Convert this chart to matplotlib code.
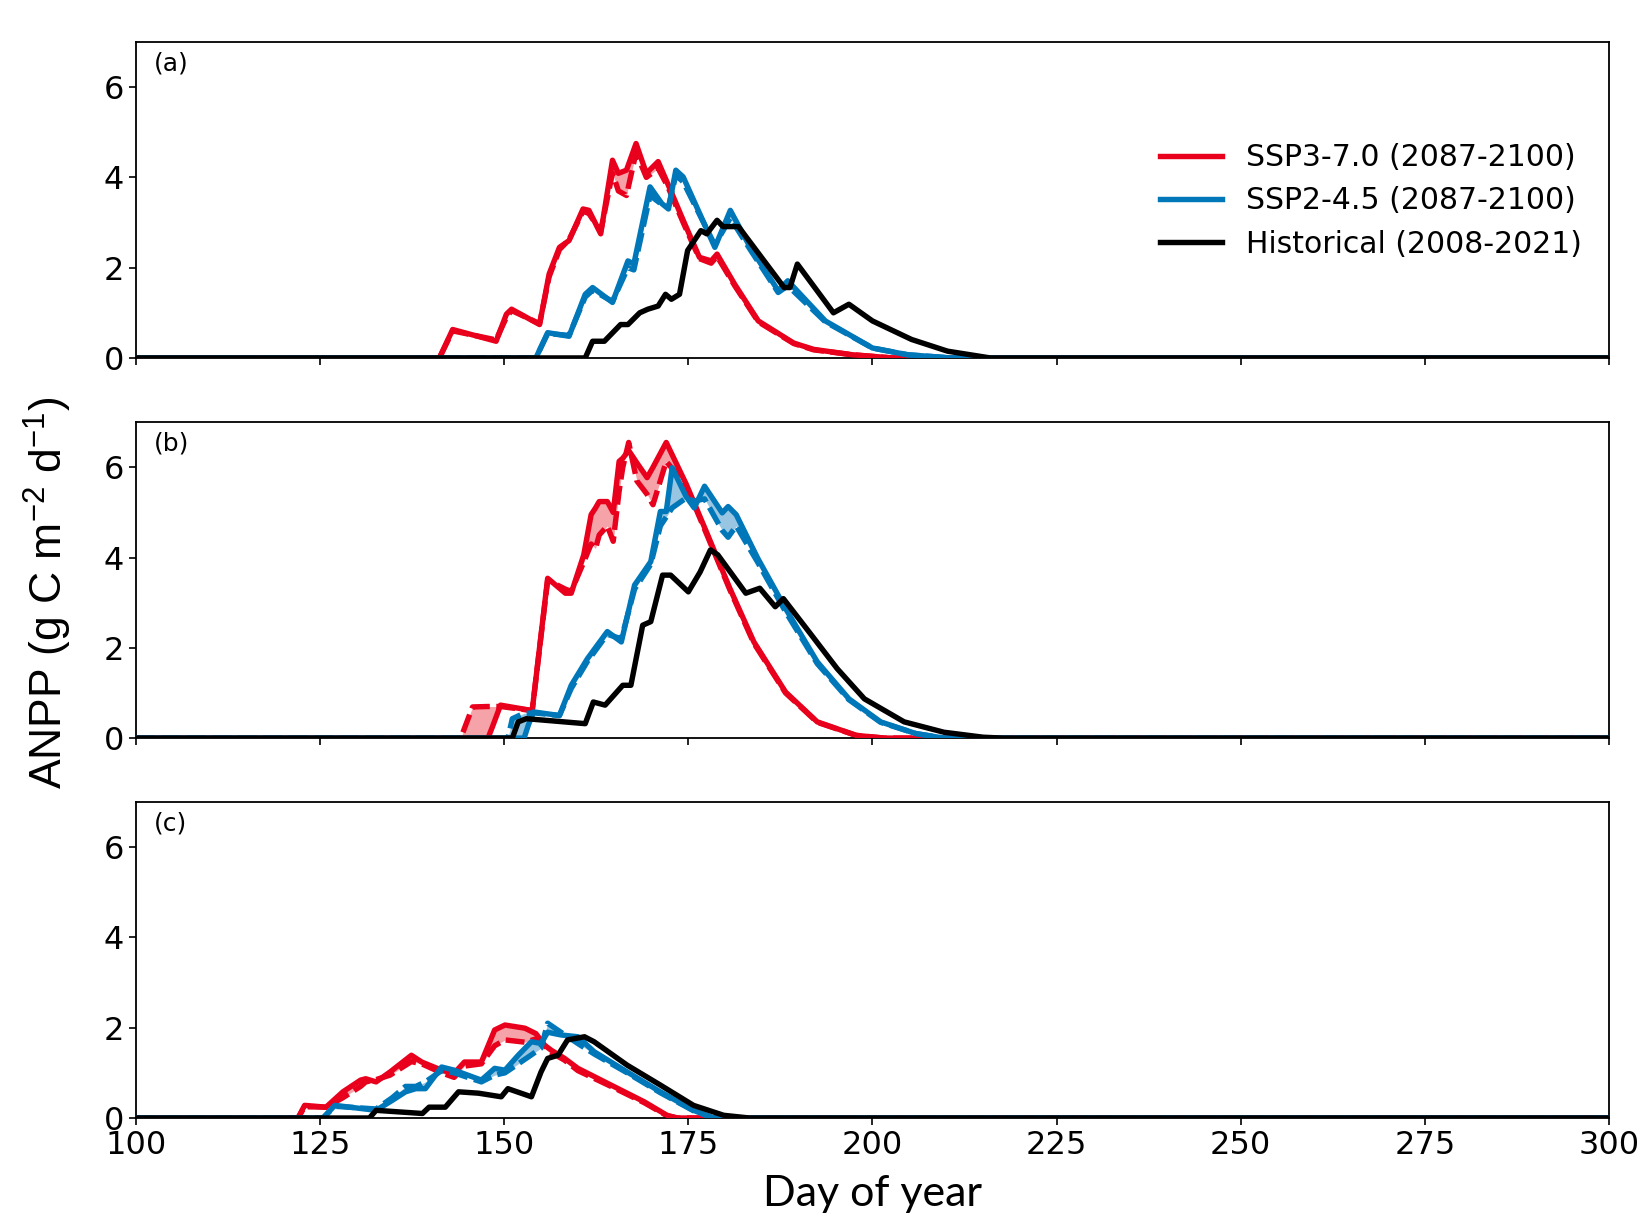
import matplotlib
matplotlib.use("Agg")
import matplotlib.pyplot as plt

# ---------------- data (day of year, ANPP in g C m-2 d-1) ----------------
# panel (a)
a_red_x = [100, 141.2, 143.0, 148.9, 150.3, 151.0, 154.8, 156.1, 157.5, 158.8, 160.7, 161.5, 163.1,
           164.7, 165.5, 166.6, 167.9, 169.3, 170.9, 172.2, 174.3, 176.5, 178.1, 178.9, 181.3, 184.5,
           189.3, 192.0, 197.3, 202.7, 300]
a_red_solid = [0, 0, 0.63, 0.37, 0.97, 1.08, 0.74, 1.86, 2.45, 2.6, 3.3, 3.27, 2.75, 4.38, 4.09, 4.16,
               4.75, 4.09, 4.35, 3.86, 3.05, 2.23, 2.15, 2.3, 1.63, 0.82, 0.33, 0.19, 0.07, 0, 0]
a_red_dash = [0, 0, 0.6, 0.4, 0.9, 1.05, 0.76, 1.8, 2.4, 2.62, 3.25, 3.2, 2.8, 4.1, 3.7, 3.6, 4.55,
              4.0, 4.2, 3.8, 3.0, 2.2, 2.1, 2.25, 1.6, 0.8, 0.32, 0.18, 0.07, 0, 0]

a_blue_x = [100, 154.3, 155.9, 158.8, 161.0, 162.0, 164.7, 166.8, 167.6, 169.8, 171.4, 172.3, 173.3,
            174.3, 178.6, 180.7, 183.4, 187.2, 188.5, 193.6, 200.0, 204.8, 210.7, 300]
a_blue_solid = [0, 0, 0.56, 0.48, 1.41, 1.56, 1.23, 2.15, 2.08, 3.79, 3.42, 3.3, 4.16, 4.01, 2.45,
                3.27, 2.45, 1.49, 1.71, 0.82, 0.22, 0.07, 0, 0]
a_blue_dash = [0, 0, 0.54, 0.5, 1.35, 1.5, 1.25, 2.0, 1.95, 3.6, 3.4, 3.35, 4.05, 3.9, 2.5, 3.1,
               2.4, 1.45, 1.6, 0.8, 0.22, 0.07, 0, 0]

a_hist_x = [100, 161.0, 162.0, 163.6, 165.8, 166.8, 168.4, 169.5, 170.9, 171.9, 172.7, 173.8, 174.9,
            176.7, 177.5, 178.9, 179.7, 181.8, 188.0, 188.8, 189.8, 194.7, 196.8, 200.0, 205.3,
            210.2, 216.0, 300]
a_hist = [0, 0, 0.37, 0.37, 0.74, 0.74, 1.0, 1.08, 1.15, 1.41, 1.3, 1.41, 2.38, 2.82, 2.75, 3.05,
          2.91, 2.91, 1.56, 1.56, 2.08, 1.0, 1.19, 0.82, 0.41, 0.15, 0.0, 0]

# panel (b)
b_red_x = [100, 144.1, 145.7, 147.8, 148.4, 149.5, 153.8, 155.9, 158.3, 159.1, 160.8, 161.8, 162.4,
           162.9, 164.0, 164.8, 165.6, 166.1, 166.9, 168.0, 169.4, 170.2, 172.0, 174.7, 177.4, 180.6,
           183.9, 188.2, 192.5, 197.8, 201.6, 300]
b_red_solid = [0, 0, 0, 0, 0.25, 0.73, 0.61, 3.54, 3.21, 3.21, 4.06, 4.95, 5.1, 5.24, 5.24, 5.0,
               6.13, 6.2, 6.37, 6.1, 5.77, 6.0, 6.55, 5.63, 4.59, 3.33, 2.13, 1.02, 0.36, 0.06, 0, 0]
b_red_dash = [0, 0, 0.69, 0.7, 0.7, 0.7, 0.61, 3.5, 3.3, 3.25, 3.9, 4.3, 4.2, 4.5, 4.7, 4.36, 5.47,
              6.0, 6.55, 5.7, 5.4, 5.17, 6.13, 5.6, 4.55, 3.3, 2.1, 1.0, 0.35, 0.06, 0, 0]

b_blue_x = [100, 150.5, 151.1, 152.7, 153.3, 154.0, 157.5, 159.1, 161.3, 164.0, 165.9, 167.7, 169.9,
            171.2, 172.0, 172.8, 174.7, 175.8, 177.2, 179.6, 180.4, 181.5, 184.4, 188.2, 192.5,
            196.8, 201.1, 205.9, 209.7, 300]
b_blue_solid = [0, 0, 0, 0, 0.3, 0.58, 0.5, 1.17, 1.76, 2.36, 2.13, 3.39, 3.91, 5.02, 5.02, 5.99,
                5.35, 5.1, 5.58, 4.99, 5.13, 4.95, 3.99, 2.87, 1.69, 0.87, 0.36, 0.1, 0, 0]
b_blue_dash = [0, 0, 0.43, 0.55, 0.55, 0.56, 0.5, 1.1, 1.7, 2.3, 2.2, 3.3, 3.85, 4.7, 4.9, 5.1,
               5.32, 5.25, 5.3, 4.6, 4.45, 4.7, 3.9, 2.8, 1.65, 0.85, 0.35, 0.1, 0, 0]

b_hist_x = [100, 151.1, 151.9, 153.0, 161.0, 162.1, 163.7, 166.1, 167.2, 168.8, 169.9, 171.5, 172.6,
            175.0, 176.6, 178.0, 179.0, 182.8, 184.7, 186.8, 187.9, 191.4, 195.2, 198.9, 204.3,
            209.7, 215.0, 217.7, 300]
b_hist = [0, 0, 0.36, 0.43, 0.32, 0.8, 0.73, 1.17, 1.17, 2.5, 2.58, 3.61, 3.61, 3.24, 3.68, 4.17,
          4.06, 3.21, 3.32, 2.91, 3.09, 2.35, 1.54, 0.87, 0.36, 0.13, 0.02, 0, 0]

# panel (c)
c_red_x = [100, 122.0, 122.9, 125.8, 128.1, 130.5, 131.2, 132.6, 134.5, 137.4, 138.8, 141.5, 143.2,
           144.6, 146.9, 148.7, 150.1, 152.8, 154.3, 155.5, 156.4, 158.2, 160.0, 164.5, 169.0,
           172.1, 173.5, 300]
c_red_solid = [0, 0, 0.28, 0.24, 0.58, 0.84, 0.87, 0.8, 1.02, 1.39, 1.24, 1.06, 0.99, 1.24, 1.24,
               1.95, 2.06, 1.99, 1.87, 1.61, 1.5, 1.32, 1.1, 0.73, 0.36, 0.06, 0, 0]
c_red_dash = [0, 0, 0.25, 0.24, 0.45, 0.7, 0.8, 0.85, 0.95, 1.25, 1.2, 1.0, 0.9, 1.15, 1.2, 1.6,
              1.73, 1.68, 1.75, 1.6, 1.45, 1.28, 1.05, 0.7, 0.34, 0.05, 0, 0]

c_blue_x = [100, 125.4, 127.0, 132.6, 134.8, 136.6, 138.0, 139.3, 141.5, 143.2, 146.9, 148.7, 150.1,
            151.9, 153.7, 155.0, 155.9, 157.7, 160.0, 162.2, 166.7, 171.2, 175.7, 178.4, 300]
c_blue_solid = [0, 0, 0.28, 0.17, 0.39, 0.58, 0.65, 0.65, 1.13, 1.06, 0.84, 1.1, 1.06, 1.39, 1.69,
                1.65, 1.9, 1.84, 1.8, 1.47, 1.02, 0.58, 0.17, 0, 0]
c_blue_dash = [0, 0, 0.26, 0.2, 0.45, 0.7, 0.7, 0.8, 1.05, 1.0, 0.8, 0.95, 1.0, 1.2, 1.4, 1.55,
               2.1, 1.9, 1.65, 1.42, 1.0, 0.56, 0.16, 0, 0]

c_hist_x = [100, 131.7, 132.6, 138.9, 139.8, 142.0, 143.8, 146.5, 149.6, 150.5, 153.7, 155.0, 155.9,
            157.3, 158.6, 160.9, 162.2, 166.7, 171.2, 175.7, 179.8, 183.3, 300]
c_hist = [0, 0, 0.17, 0.1, 0.24, 0.24, 0.58, 0.55, 0.47, 0.65, 0.47, 1.02, 1.32, 1.39, 1.73, 1.8,
          1.69, 1.17, 0.73, 0.28, 0.06, 0, 0]

panel_labels = ["(a)", "(b)", "(c)"]
legend_labels = ["SSP3-7.0 (2087-2100)", "SSP2-4.5 (2087-2100)", "Historical (2008-2021)"]
x_ticks = [100, 125, 150, 175, 200, 225, 250, 275, 300]
y_ticks = [0, 2, 4, 6]

RED = "#E8001C"
BLUE = "#0077B9"
RED_FILL = "#F5A3A8"
BLUE_FILL = "#98C6E2"

panels = [
    (a_red_x, a_red_solid, a_red_dash, a_blue_x, a_blue_solid, a_blue_dash, a_hist_x, a_hist),
    (b_red_x, b_red_solid, b_red_dash, b_blue_x, b_blue_solid, b_blue_dash, b_hist_x, b_hist),
    (c_red_x, c_red_solid, c_red_dash, c_blue_x, c_blue_solid, c_blue_dash, c_hist_x, c_hist),
]

plt.rcParams["mathtext.fontset"] = "custom"
plt.rcParams["mathtext.rm"] = "Liberation Sans"
plt.rcParams["mathtext.default"] = "regular"

fig = plt.figure(figsize=(16.44, 12.2), dpi=100)
left, width, height = 0.0827, 0.896, 0.259
bottoms = [0.7066, 0.395, 0.0836]
lw = 3.9

axes = []
for i, (rx, rs, rd, bx, bs, bd, hx, hy) in enumerate(panels):
    ax = fig.add_axes([left, bottoms[i], width, height])
    axes.append(ax)
    ax.fill_between(rx, rs, rd, color=RED_FILL, lw=0, zorder=1)
    ax.fill_between(bx, bs, bd, color=BLUE_FILL, lw=0, zorder=1)
    ax.plot(rx, rd, color=RED, lw=lw, ls=(0, (3.5, 1.2)), zorder=2)
    l1, = ax.plot(rx, rs, color=RED, lw=lw, zorder=3)
    ax.plot(bx, bd, color=BLUE, lw=lw, ls=(0, (3.5, 1.2)), zorder=4)
    l2, = ax.plot(bx, bs, color=BLUE, lw=lw, zorder=5)
    l3, = ax.plot(hx, hy, color="black", lw=lw, zorder=6)
    ax.set_xlim(100, 300)
    ax.set_ylim(0, 7)
    ax.set_xticks(x_ticks)
    ax.set_yticks(y_ticks)
    ax.tick_params(labelsize=23, length=5, width=1.2)
    if i < 2:
        ax.set_xticklabels([])
    for s in ax.spines.values():
        s.set_linewidth(1.3)
    ax.text(0.012, 0.97, panel_labels[i], transform=ax.transAxes, fontsize=18,
            va="top", ha="left")
    if i == 0:
        ax.legend([l1, l2, l3], legend_labels, loc="upper right", frameon=False,
                  fontsize=21.5, bbox_to_anchor=(1.0, 0.765), handlelength=2.1,
                  handletextpad=0.8, labelspacing=0.48)

axes[2].set_xlabel("Day of year", fontsize=31, family="Lato", labelpad=10)
fig.text(0.029, 0.514, "ANPP (g C m$^{-2}$ d$^{-1}$)", rotation=90, fontsize=32,
         family="Liberation Sans", va="center", ha="center")

fig.savefig("out.png", dpi=100)
